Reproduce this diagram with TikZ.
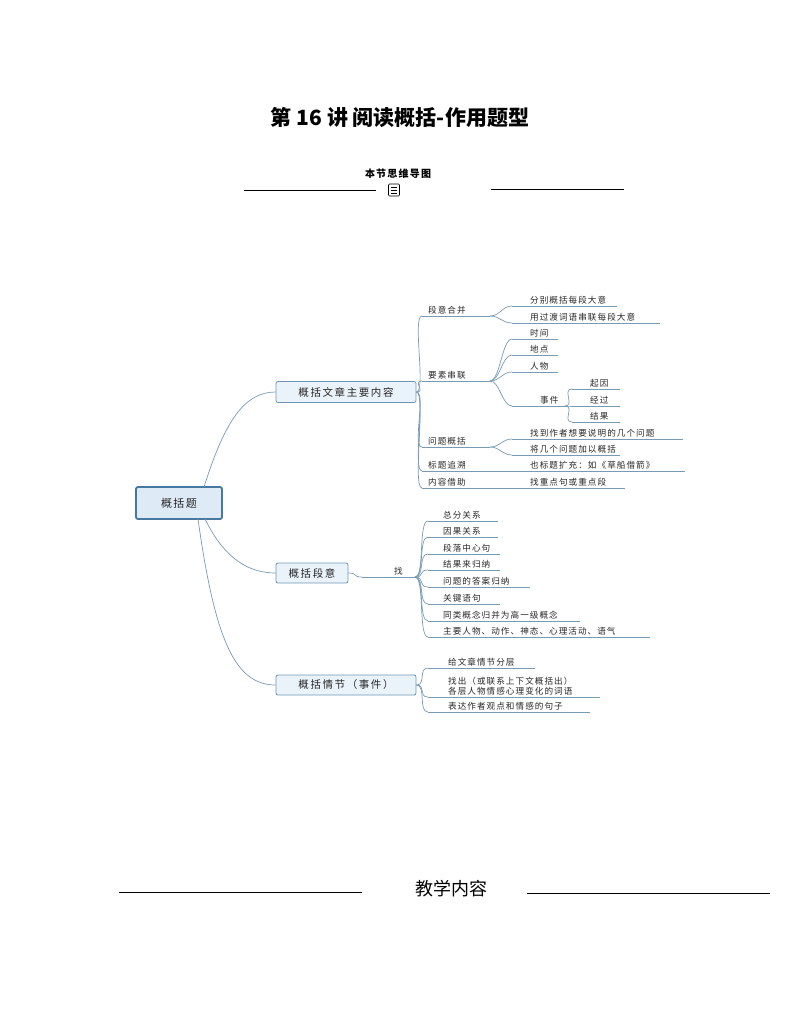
\documentclass[tikz,border=0pt]{standalone}
\usepackage{fontspec}
\setmainfont{Noto Sans CJK SC}
\newfontfamily\spc{Noto Sans CJK SC}[LetterSpace=12]
\definecolor{lnc}{RGB}{120,155,180}
\definecolor{bxd}{RGB}{110,150,180}
\definecolor{bxf}{RGB}{235,243,250}
\definecolor{rtd}{RGB}{70,120,160}
\definecolor{rtf}{RGB}{222,235,247}
\begin{document}
\begin{tikzpicture}[x=1pt,y=-1pt,
  ln/.style={draw=lnc, line width=0.7pt},
  lbl/.style={font=\spc\fontsize{8.6}{9}\selectfont, inner sep=0pt, text=black!85},
  topbox/.style={draw=bxd, fill=bxf, rounded corners=2pt, line width=0.8pt, font=\spc\fontsize{10.5}{11}\selectfont\addfontfeature{LetterSpace=15}, inner sep=0pt, text=black!85},
  rootbox/.style={draw=rtd, fill=rtf, rounded corners=2pt, line width=1.8pt, font=\spc\fontsize{11}{12}\selectfont, inner sep=0pt, text=black!85}]
\useasboundingbox (0,0) rectangle (794,1028);
\newcommand\lf[7]{%
  \coordinate (#2s) at (#3,#5); \coordinate (#2e) at (#4,#5);
  \draw[ln] (#2s)--(#2e);
  \node[lbl,anchor=base west] (#2) at (#6,{#5-3}) {#7};
  \draw[ln] (#1) .. controls +(10,0) and +(-10,0) .. (#2s);}
% title
\node[font=\fontsize{21}{24}\selectfont\bfseries] (title) at (400,117) {第 16 讲 阅读概括-作用题型};
\node[font=\spc\fontsize{10}{11}\selectfont\bfseries] (sub) at (398,174) {本节思维导图};
\coordinate (l1a) at (244,190); \coordinate (l1b) at (376,190);
\coordinate (l2a) at (491,189); \coordinate (l2b) at (624,189);
\draw[line width=0.7pt] (l1a)--(l1b); \draw[line width=0.7pt] (l2a)--(l2b);
\node[draw, rounded corners=1pt, minimum width=11pt, minimum height=12pt, line width=0.6pt] (ic) at (394,190) {};
\foreach \yy in {-3,0,3} \draw[line width=0.6pt] ([shift={(-3,\yy)}]ic.center) -- ([shift={(3,\yy)}]ic.center);
% boxes
\node[rootbox, minimum width=86pt, minimum height=32pt] (root) at (179,503) {概括题};
\node[topbox, minimum width=140pt, minimum height=21pt] (A) at (346,392) {概括文章主要内容};
\node[topbox, minimum width=72pt, minimum height=20pt] (B) at (312,573) {概括段意};
\node[topbox, minimum width=140pt, minimum height=20pt] (C) at (346,685) {概括情节（事件）};
\coordinate (r1) at (204,487); \coordinate (r2) at (198,519); \coordinate (r3) at (205,519);
\draw[ln] (r1) .. controls (225,420) and (245,392) .. (A.west);
\draw[ln] (r3) .. controls (225,560) and (250,573) .. (B.west);
\draw[ln] (r2) .. controls (215,640) and (235,685) .. (C.west);
% A branch
\lf{A.east}{p1}{422}{490}{316}{428}{段意合并}
\lf{A.east}{p2}{422}{490}{381}{428}{要素串联}
\lf{A.east}{p3}{422}{490}{447}{428}{问题概括}
\lf{A.east}{p4}{422}{685}{471}{428}{标题追溯}
\lf{A.east}{p5}{422}{625}{488}{428}{内容借助}
\node[lbl,anchor=base west] (p4b) at (530,468) {也标题扩充：如《草船借箭》};
\node[lbl,anchor=base west] (p5b) at (530,485) {找重点句或重点段};
\lf{p1e}{q1}{512}{617}{306}{530}{分别概括每段大意}
\lf{p1e}{q2}{512}{660}{323}{530}{用过渡词语串联每段大意}
\lf{p2e}{q3}{512}{558}{339}{530}{时间}
\lf{p2e}{q4}{512}{558}{355}{530}{地点}
\lf{p2e}{q5}{512}{558}{372}{530}{人物}
\lf{p2e}{q6}{512}{565}{406}{540}{事件}
\lf{q6e}{w1}{572}{620}{389}{590}{起因}
\lf{q6e}{w2}{572}{620}{406}{590}{经过}
\lf{q6e}{w3}{572}{620}{422}{590}{结果}
\lf{p3e}{q7}{512}{683}{439}{530}{找到作者想要说明的几个问题}
\lf{p3e}{q8}{512}{620}{455}{530}{将几个问题加以概括}
% B branch
\lf{B.east}{zh}{362}{415}{577}{394}{找}
\lf{zhe}{b1}{428}{498}{521}{443}{总分关系}
\lf{zhe}{b2}{428}{498}{537}{443}{因果关系}
\lf{zhe}{b3}{428}{500}{554}{443}{段落中心句}
\lf{zhe}{b4}{428}{500}{570}{443}{结果来归纳}
\lf{zhe}{b5}{428}{530}{587}{443}{问题的答案归纳}
\lf{zhe}{b6}{428}{500}{604}{443}{关键语句}
\lf{zhe}{b7}{428}{580}{621}{443}{同类概念归并为高一级概念}
\lf{zhe}{b8}{428}{650}{637}{443}{主要人物、动作、神态、心理活动、语气}
% C branch
\lf{C.east}{c1}{428}{535}{668}{448}{给文章情节分层}
\lf{C.east}{c2}{428}{600}{697}{448}{各层人物情感心理变化的词语}
\node[lbl,anchor=base west] (c2b) at (448,684) {找出（或联系上下文概括出）};
\lf{C.east}{c3}{428}{590}{712}{448}{表达作者观点和情感的句子}
% bottom
\node[font=\fontsize{18}{20}\selectfont] (jx) at (451,889) {教学内容};
\coordinate (m1a) at (119,892); \coordinate (m1b) at (362,892);
\coordinate (m2a) at (527,893); \coordinate (m2b) at (770,893);
\draw[line width=0.8pt] (m1a)--(m1b); \draw[line width=0.8pt] (m2a)--(m2b);
\end{tikzpicture}
\end{document}
